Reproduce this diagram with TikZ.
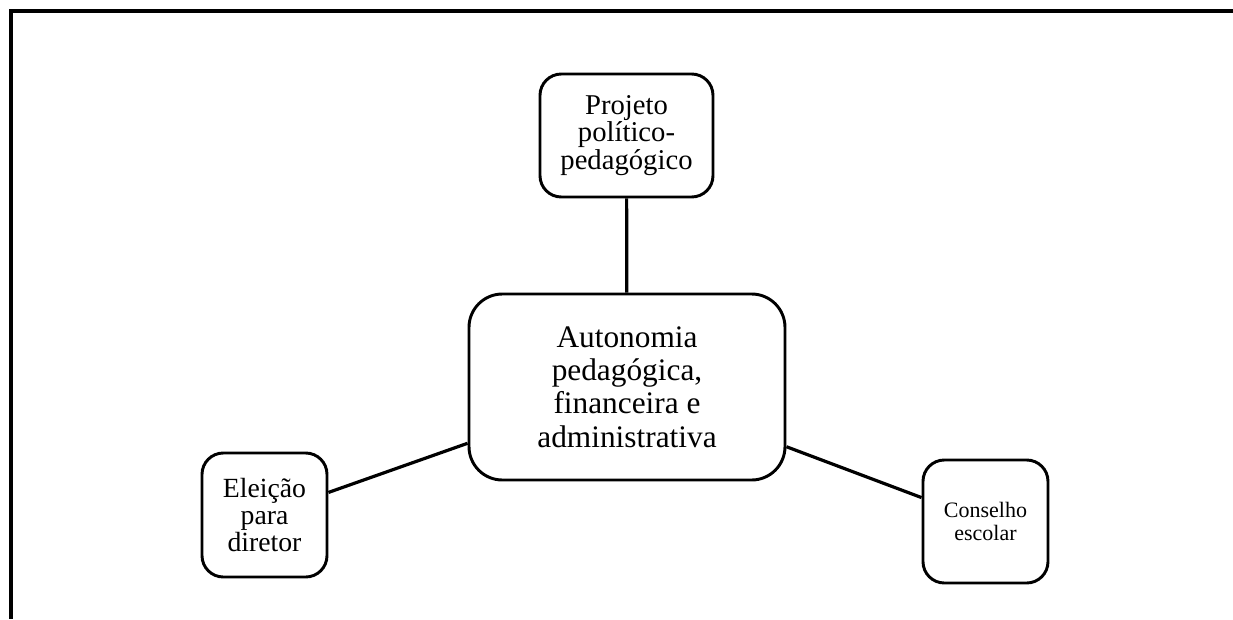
\documentclass[tikz,border=0pt]{standalone}
\usepackage{fontspec}
\setmainfont{Liberation Serif}
\usepackage{tikz}
\usetikzlibrary{positioning}

\begin{document}
\begin{tikzpicture}[
  x=0.75pt, y=-0.75pt,
  box/.style={draw, line width=2.2pt, rounded corners=16pt, align=center, inner sep=0pt},
  link/.style={line width=2.4pt},
  frame/.style={line width=3pt}
]
\useasboundingbox (0,0) rectangle (1233,619);
\draw[frame] (1233,11) -- (11,11) -- (11,619);

\node[box, minimum width=316*0.75pt, minimum height=186*0.75pt, rounded corners=25pt,
  font=\fontsize{23.5}{25}\selectfont] (autonomia) at (627,387)
  {Autonomia\\pedagógica,\\financeira e\\administrativa};
\node[box, minimum width=173*0.75pt, minimum height=123*0.75pt,
  font=\fontsize{21.5}{20.6}\selectfont] (projeto) at (626.5,135.5)
  {Projeto\\político-\\pedagógico};
\node[box, minimum width=125*0.75pt, minimum height=124*0.75pt,
  font=\fontsize{20.8}{20.6}\selectfont] (eleicao) at (264.5,515)
  {Eleição\\para\\diretor};
\node[box, minimum width=125*0.75pt, minimum height=123*0.75pt,
  font=\fontsize{16.5}{16.8}\selectfont] (conselho) at (985.5,521.5)
  {Conselho\\escolar};

\draw[link] (projeto) -- (autonomia);
\draw[link] (eleicao) -- (autonomia);
\draw[link] (autonomia) -- (conselho);
\end{tikzpicture}
\end{document}
